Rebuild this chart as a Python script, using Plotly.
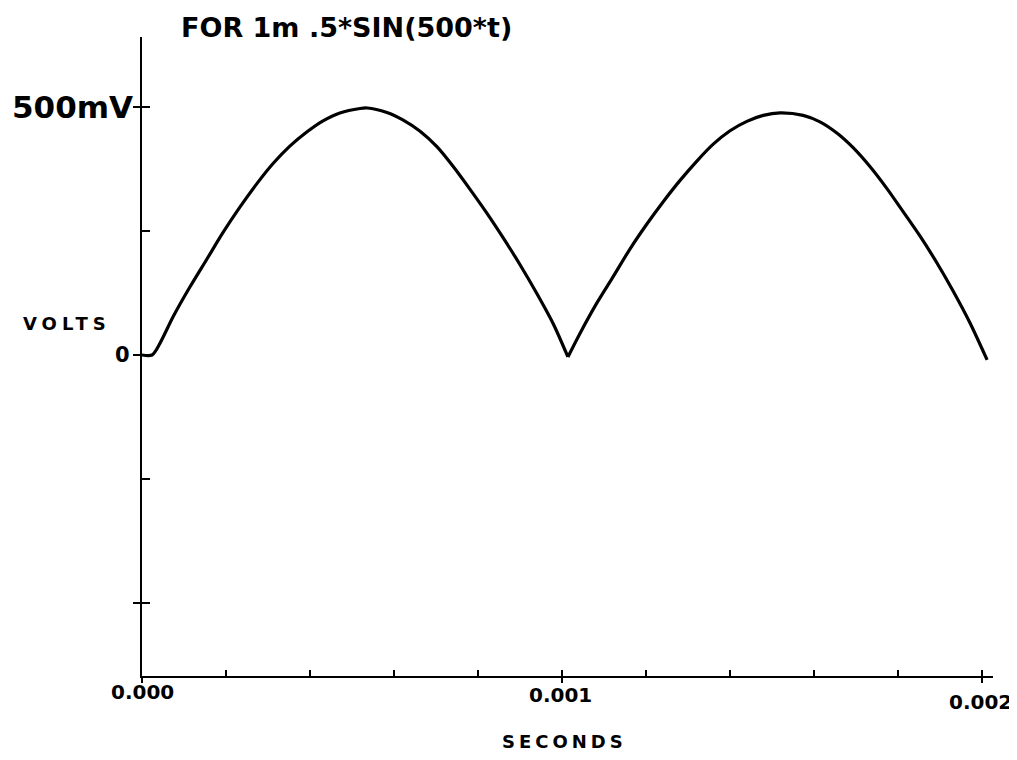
import plotly.graph_objects as go

# Data (time in ms, voltage in mV)
time_ms = [0.000, 0.024, 0.043, 0.074, 0.114, 0.155, 0.193, 0.233, 0.274, 0.312,
           0.352, 0.393, 0.431, 0.471, 0.519, 0.536, 0.583, 0.621, 0.662, 0.702,
           0.740, 0.781, 0.821, 0.860, 0.900, 0.940, 0.979, 1.014, 1.043, 1.083,
           1.121, 1.162, 1.202, 1.240, 1.281, 1.321, 1.360, 1.400, 1.440, 1.479,
           1.519, 1.574, 1.614, 1.655, 1.693, 1.733, 1.774, 1.812, 1.852, 1.893,
           1.931, 1.971, 2.012]
volts_mv = [0, 0, 24, 77, 137, 194, 247, 298, 346, 386,
            421, 450, 472, 488, 497, 498, 489, 474, 451, 420,
            381, 334, 286, 236, 182, 124, 63, -4, 44, 105,
            157, 214, 264, 308, 352, 391, 425, 452, 471, 483,
            488, 483, 470, 447, 418, 380, 335, 289, 240, 185,
            129, 65, -10]

time_s = [t / 1000.0 for t in time_ms]
volts = [v / 1000.0 for v in volts_mv]

x_minor_ticks = [0.0, 0.0002, 0.0004, 0.0006, 0.0008, 0.001, 0.0012, 0.0014, 0.0016, 0.0018, 0.002]
x_major_ticks = [0.0, 0.001, 0.002]
x_major_labels = ["0.000", "0.001", "0.002"]
y_ticks = [0.5, 0.25, 0.0, -0.25, -0.5]
y_major_ticks = [0.5, 0.0, -0.5]
y_major_labels = ["500mV", "0"]
y_label_values = [0.5, 0.0]

title_text = "FOR 1m .5*SIN(500*t)"

X_RANGE = [0, 0.002026]
Y_RANGE = [-0.6472, 0.6411]

BOLD = "DejaVu Sans"

# split at the cusp (the minimum between the humps) so it stays sharp
mid = len(time_s) // 2
cusp = min(range(mid - 5, mid + 5), key=lambda i: volts[i])

fig = go.Figure()
for seg in (slice(0, cusp + 1), slice(cusp, None)):
    fig.add_trace(go.Scatter(
        x=time_s[seg], y=volts[seg], mode="lines",
        line=dict(color="black", width=3.2, shape="spline", smoothing=0.8),
        showlegend=False, hoverinfo="skip",
    ))
# invisible trace to keep overlay axes alive
fig.add_trace(go.Scatter(x=[None], y=[None], xaxis="x2", yaxis="y2", showlegend=False))

# page body adds an 8px offset; margins compensate so the plot area sits at 142..993 x 37..676
fig.update_layout(
    width=1009, height=744,
    margin=dict(l=134, r=24, t=29, b=76),
    paper_bgcolor="white", plot_bgcolor="white",
    xaxis=dict(range=X_RANGE, showgrid=False, zeroline=False,
               showline=True, linecolor="black", linewidth=2,
               tickmode="array", tickvals=x_minor_ticks, ticktext=[""] * len(x_minor_ticks),
               ticks="inside", ticklen=6, tickwidth=2, tickcolor="black"),
    xaxis2=dict(range=X_RANGE, overlaying="x", anchor="y", side="bottom",
                showgrid=False, zeroline=False, showline=False,
                tickmode="array", tickvals=x_major_ticks, ticktext=["", "", ""],
                ticks="outside", ticklen=6, tickwidth=2, tickcolor="black"),
    yaxis=dict(range=Y_RANGE, showgrid=False, zeroline=False,
               showline=True, linecolor="black", linewidth=2,
               tickmode="array", tickvals=y_ticks, ticktext=[""] * len(y_ticks),
               ticks="inside", ticklen=8, tickwidth=2, tickcolor="black"),
    yaxis2=dict(range=Y_RANGE, overlaying="y", anchor="x", side="left",
                showgrid=False, zeroline=False, showline=False,
                tickmode="array", tickvals=y_major_ticks, ticktext=["", "", ""],
                ticks="outside", ticklen=8, tickwidth=2, tickcolor="black"),
)

annotations = []
# title
annotations.append(dict(text="<b>" + title_text + "</b>", xref="paper", yref="paper",
                        x=0.0435, y=1.0, xanchor="left", yanchor="bottom", yshift=-8,
                        showarrow=False, font=dict(family=BOLD, size=27, color="black")))
# y tick labels
y_label_sizes = [31, 21]
y_label_shift = [-7, -10]
for val, lab, sz, sh in zip(y_label_values, y_major_labels, y_label_sizes, y_label_shift):
    annotations.append(dict(text="<b>" + lab + "</b>", xref="paper", yref="y",
                            x=0, y=val, xanchor="right", yanchor="middle", xshift=sh,
                            showarrow=False, font=dict(family=BOLD, size=sz, color="black")))
# x tick labels
x_label_shift = [-2, -5, -12]
x_label_xshift = [0, -2, -2]
for val, lab, sh, xs in zip(x_major_ticks, x_major_labels, x_label_shift, x_label_xshift):
    annotations.append(dict(text="<b>" + lab + "</b>", xref="x", yref="paper",
                            x=val, y=0, xanchor="center", yanchor="top", yshift=sh, xshift=xs,
                            showarrow=False, font=dict(family=BOLD, size=20, color="black")))
# axis titles
annotations.append(dict(text='<b><span style="letter-spacing:5px">VOLTS</span></b>',
                        xref="paper", yref="paper", x=(21 - 142) / 851, y=(676 - 323) / 639,
                        xanchor="left", yanchor="middle", showarrow=False,
                        font=dict(family=BOLD, size=18, color="black")))
annotations.append(dict(text='<b><span style="letter-spacing:4px">SECONDS</span></b>',
                        xref="paper", yref="paper", x=(500 - 142) / 851, y=-(741 - 676) / 639,
                        xanchor="left", yanchor="middle", showarrow=False,
                        font=dict(family=BOLD, size=18, color="black")))
fig.update_layout(annotations=annotations)

fig.write_html("out.html")
